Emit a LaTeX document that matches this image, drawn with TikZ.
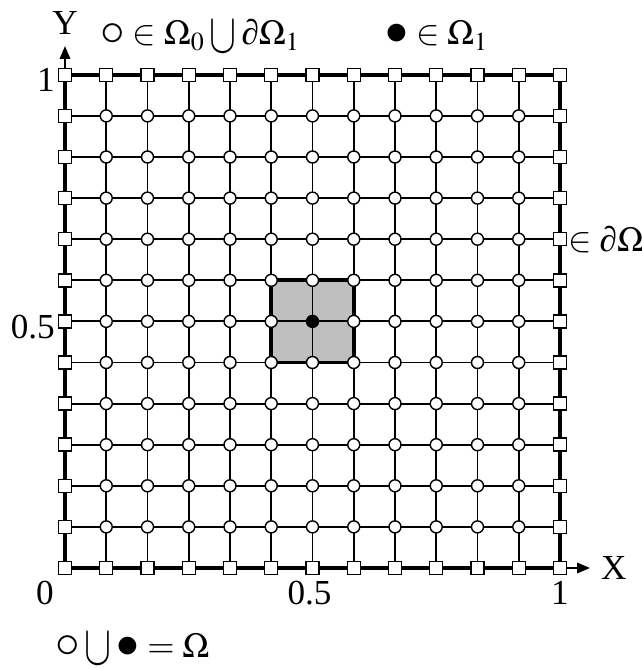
\documentclass[tikz,border=0pt]{standalone}
\usepackage{mathptmx}
\usepackage{fontspec}
\setmainfont{Liberation Serif}
\usepackage{graphicx}
\usetikzlibrary{arrows.meta,positioning,backgrounds}

\newcommand{\pdOm}{\mbox{∂}\Omega}
\newcommand{\bigU}{\mathbin{\raisebox{-0.22em}{\scalebox{1.15}[1.6]{$\cup$}}}}

\begin{document}
\begin{tikzpicture}[
    font=\fontsize{20}{24}\selectfont,
    bnode/.style={rectangle, draw, fill=white, line width=0.8pt, minimum size=0.26cm, inner sep=0pt},
    inode/.style={circle, draw, fill=white, line width=0.8pt, minimum size=0.24cm, inner sep=0pt},
    cnode/.style={circle, fill=black, minimum size=0.25cm, inner sep=0pt},
    ticklab/.style={inner sep=1.5pt},
    legend/.style={anchor=base west, inner sep=0pt},
    gridline/.style={line width=1.1pt},
    bndline/.style={line width=2.6pt},
    axis/.style={-{Triangle[length=2.6mm, width=2.1mm]}, line width=1.1pt}
]
\useasboundingbox (0,0) rectangle (12.84,13.38);

% nodes of the mesh
\begin{scope}[shift={(1.30,2.02)}, x=0.825cm, y=0.822cm]
\foreach \i in {0,...,12} {
  \foreach \j in {0,...,12} {
    \ifnum\i=0 \node[bnode] (g-\i-\j) at (\i,\j) {};
    \else\ifnum\i=12 \node[bnode] (g-\i-\j) at (\i,\j) {};
    \else\ifnum\j=0 \node[bnode] (g-\i-\j) at (\i,\j) {};
    \else\ifnum\j=12 \node[bnode] (g-\i-\j) at (\i,\j) {};
    \else \node[inode] (g-\i-\j) at (\i,\j) {};
    \fi\fi\fi\fi
  }
}
\end{scope}
\node[cnode] at (g-6-6) {};

% cell, grid lines and boundary
\begin{scope}[on background layer]
\draw[fill=black!25, line width=2.2pt] (g-5-5.center) rectangle (g-7-7.center);
\foreach \k in {1,...,11} {
  \draw[gridline] (g-\k-0.center) -- (g-\k-12.center);
  \draw[gridline] (g-0-\k.center) -- (g-12-\k.center);
}
\draw[bndline] (g-0-0.center) -- (g-12-0.center) -- (g-12-12.center) -- (g-0-12.center) -- cycle;
\end{scope}

% axes
\coordinate (ytip) at (1.30,12.46);
\coordinate (xtip) at (11.80,2.02);
\draw[axis] (g-0-12.north) -- (ytip);
\draw[axis] (g-12-0.east) -- (xtip);
\node[above=0.1cm of ytip] (ylab) {Y};
\node[right=0.1cm of xtip] (xlab) {X};

% tick labels
\node[ticklab, left=0pt of g-0-12, yshift=-3pt] (y1) {1};
\node[ticklab, left=0pt of g-0-6, yshift=-3pt] (y05) {0.5};
\node[below=0pt of g-0-0, xshift=-0.4cm] (x0) {0};
\node[below=0pt of g-6-0, xshift=-0.06cm] (x05) {0.5};
\node[below=0pt of g-12-0] (x1) {1};

% legends
\node[right=0pt of g-12-8, inner sep=0.5pt] (bnd) {$\in\pdOm$};
\node[legend] (leg1) at (2.0,12.48) {$\scalebox{1.4}{$\circ$}\in\Omega_0\bigU\pdOm_1$};
\node[legend] (leg2) at (7.70,12.48) {$\scalebox{1.3}{$\bullet$}\in\Omega_1$};
\node[legend] (leg3) at (1.10,0.24) {$\scalebox{1.4}{$\circ$}\bigU\scalebox{1.3}{$\bullet$}=\Omega$};
\end{tikzpicture}
\end{document}
